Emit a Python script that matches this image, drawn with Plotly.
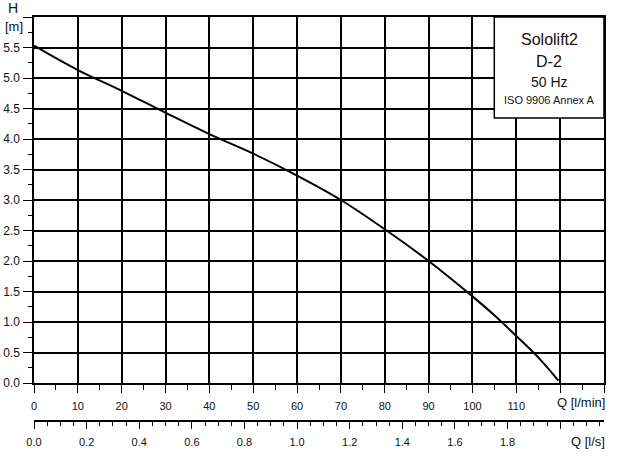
import plotly.graph_objects as go

# Pump curve data
q_lmin = [0, 10, 20, 30, 40, 50, 60, 70, 80, 90, 100, 105, 110, 115, 119.6]
h_m = [5.53, 5.13, 4.79, 4.43, 4.08, 3.76, 3.40, 3.0, 2.52, 2.0, 1.42, 1.11, 0.77, 0.42, 0.04]

x_ticks = list(range(0, 140, 10))
x_ticktext = [str(v) if v <= 110 else "" for v in x_ticks]
y_ticks = [i * 0.5 for i in range(13)]
y_ticktext = [f"{v:.1f}" if v < 6 else "" for v in y_ticks]
x2_ticks = [i * 0.2 for i in range(11)]
x2_ticktext = [f"{v:.1f}" if v < 1.9 else "" for v in x2_ticks]

info_lines = ["Sololift2", "D-2", "50 Hz", "ISO 9906 Annex A"]

FONT = "Arial, Liberation Sans, sans-serif"

fig = go.Figure()
fig.add_trace(go.Scatter(x=q_lmin, y=h_m, mode="lines",
                         line=dict(color="black", width=2, shape="spline", smoothing=1.0),
                         hoverinfo="skip", showlegend=False))
# invisible trace to carry the l/s axis
fig.add_trace(go.Scatter(x=[q / 60 for q in q_lmin], y=h_m, xaxis="x2", mode="lines",
                         line=dict(color="rgba(0,0,0,0)", width=0),
                         hoverinfo="skip", showlegend=False))

W, H = 617, 459
ml, mr, mt, mb = 34, 13, 17, 10
ph = H - mt - mb
def py(pix):
    return (H - mb - pix) / ph

fig.update_layout(
    width=W, height=H,
    margin=dict(l=ml, r=mr, t=mt, b=mb, autoexpand=False),
    paper_bgcolor="white", plot_bgcolor="white",
    font=dict(family=FONT, size=11, color="#111"),
    xaxis=dict(range=[0, 130], tickvals=x_ticks, ticktext=x_ticktext, automargin=False,
               showgrid=True, gridcolor="black", gridwidth=1.5,
               showline=True, linecolor="black", linewidth=1.5, mirror=True,
               ticks="outside", ticklen=8, tickcolor="black", tickwidth=1,
               ticklabelstandoff=4,
               minor=dict(dtick=5, tick0=0, ticks="outside", ticklen=5, tickcolor="black", showgrid=False),
               zeroline=False, anchor="y"),
    yaxis=dict(range=[0, 6], domain=[py(383), 1], tickvals=y_ticks, ticktext=y_ticktext, automargin=False,
               showgrid=True, gridcolor="black", gridwidth=1.5,
               showline=True, linecolor="black", linewidth=1.5, mirror=True,
               ticks="outside", ticklen=9, tickcolor="black", tickwidth=1,
               ticklabelstandoff=1, tickfont=dict(size=12),
               minor=dict(dtick=0.25, tick0=0, ticks="outside", ticklen=4, tickcolor="black", showgrid=False),
               zeroline=False),
    xaxis2=dict(range=[0, 130 / 60], overlaying="x", anchor="free", position=py(421), side="bottom",
                tickvals=x2_ticks, ticktext=x2_ticktext, automargin=False,
                showgrid=False, showline=True, linecolor="black", linewidth=1.5,
                ticks="outside", ticklen=7, tickcolor="black", tickwidth=1,
                ticklabelstandoff=4,
                minor=dict(dtick=0.05, tick0=0, ticks="outside", ticklen=4, tickcolor="black", showgrid=False),
                zeroline=False),
)

# info box
fig.add_shape(type="rect", xref="paper", yref="paper",
              x0=(494.3 - ml) / 570, x1=1, y0=py(118), y1=1,
              line=dict(color="black", width=1.5), fillcolor="white", layer="above")
info_y = [40, 61.7, 81.7, 100]
info_size = [16, 16, 14, 11]
for txt, yy, sz in zip(info_lines, info_y, info_size):
    fig.add_annotation(text=txt, xref="paper", yref="paper", x=(549.3 - ml) / 570, y=py(yy),
                       showarrow=False, xanchor="center", yanchor="middle",
                       font=dict(size=sz, color="#111", family=FONT))

# axis titles
fig.add_annotation(text="H", xref="paper", yref="paper", x=(13 - ml) / 570, y=py(8),
                   showarrow=False, xanchor="center", yanchor="middle", font=dict(size=14))
fig.add_annotation(text="[m]", xref="paper", yref="paper", x=(14 - ml) / 570, y=py(27),
                   showarrow=False, xanchor="center", yanchor="middle", font=dict(size=13))
fig.add_annotation(text="Q [l/min]", xref="paper", yref="paper", x=1, y=py(402.7),
                   showarrow=False, xanchor="right", yanchor="middle", xshift=3, font=dict(size=13))
fig.add_annotation(text="Q [l/s]", xref="paper", yref="paper", x=1, y=py(441.7),
                   showarrow=False, xanchor="right", yanchor="middle", xshift=3, font=dict(size=13))

fig.write_html("out.html")
